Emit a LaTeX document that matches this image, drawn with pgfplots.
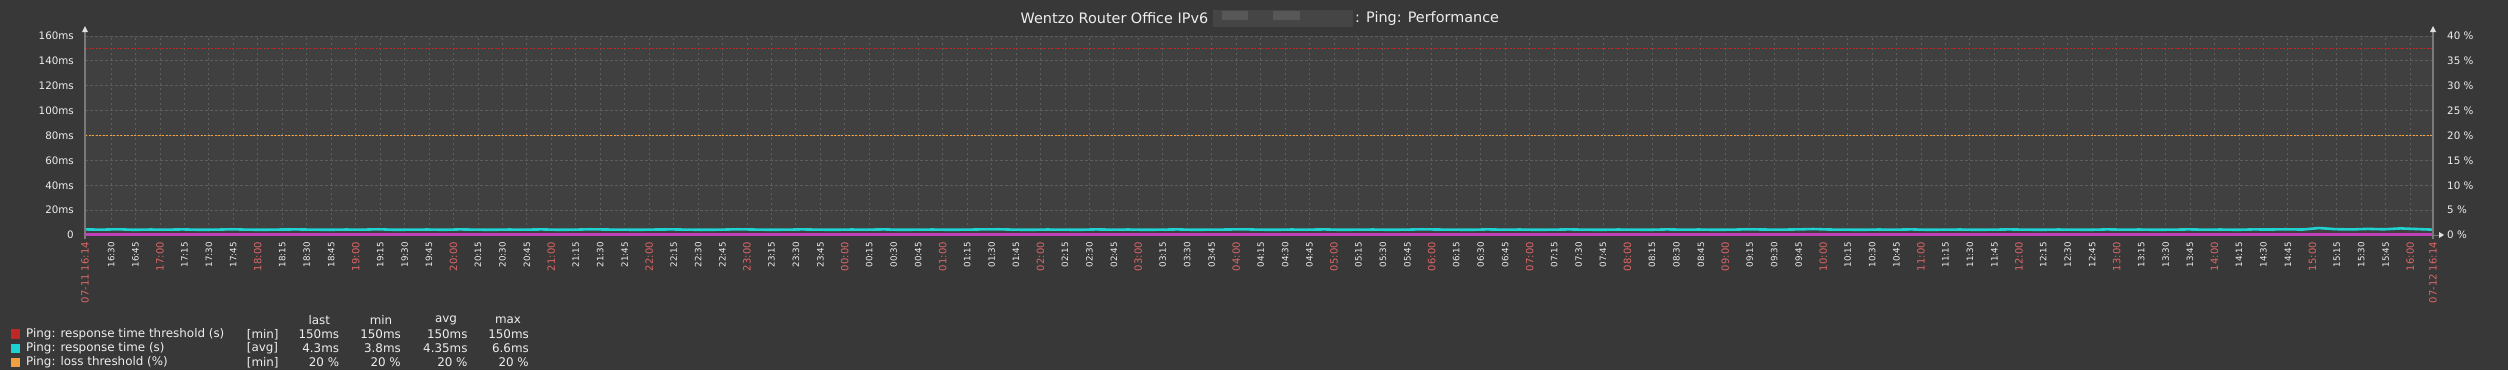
\documentclass[border=0pt]{standalone}
\usepackage{fontspec}
\setmainfont{DejaVu Sans}
\usepackage{pgfplots}
\pgfplotsset{compat=1.18}
\definecolor{bgout}{HTML}{383838}
\definecolor{bgplot}{HTML}{404040}
\definecolor{gridc}{HTML}{5E5E5E}
\definecolor{txt}{HTML}{EEEEEE}
\definecolor{hr}{HTML}{E06666}
\definecolor{thr}{HTML}{C02828}
\definecolor{cy}{HTML}{1ED2D2}
\definecolor{org}{HTML}{F0A040}
\definecolor{mag}{HTML}{C040B8}
\definecolor{axc}{HTML}{7A7A7A}
\definecolor{blurA}{HTML}{454545}
\definecolor{blurB}{HTML}{575757}
\newcommand\R[1]{{\fontsize{10}{10}\selectfont\color{hr}#1}}
\begin{document}
\begin{tikzpicture}[x=1pt,y=1pt]
\fill[bgout] (0,0) rectangle (2508,-370);
\useasboundingbox (0,0) rectangle (2508,-370);
\begin{axis}[
  at={(85pt,-235pt)}, anchor=south west,
  scale only axis, width=2348pt, height=199pt,
  xmin=0, xmax=1440, ymin=0, ymax=160,
  axis background/.style={fill=bgplot},
  axis line style={draw=none},
  major tick length=0pt,
  xtick={16,31,...,1426},
  xticklabels={16:30,16:45,
  \R{17:00},17:15,17:30,17:45,
  \R{18:00},18:15,18:30,18:45,
  \R{19:00},19:15,19:30,19:45,
  \R{20:00},20:15,20:30,20:45,
  \R{21:00},21:15,21:30,21:45,
  \R{22:00},22:15,22:30,22:45,
  \R{23:00},23:15,23:30,23:45,
  \R{00:00},00:15,00:30,00:45,
  \R{01:00},01:15,01:30,01:45,
  \R{02:00},02:15,02:30,02:45,
  \R{03:00},03:15,03:30,03:45,
  \R{04:00},04:15,04:30,04:45,
  \R{05:00},05:15,05:30,05:45,
  \R{06:00},06:15,06:30,06:45,
  \R{07:00},07:15,07:30,07:45,
  \R{08:00},08:15,08:30,08:45,
  \R{09:00},09:15,09:30,09:45,
  \R{10:00},10:15,10:30,10:45,
  \R{11:00},11:15,11:30,11:45,
  \R{12:00},12:15,12:30,12:45,
  \R{13:00},13:15,13:30,13:45,
  \R{14:00},14:15,14:30,14:45,
  \R{15:00},15:15,15:30,15:45,
  \R{16:00}},
  ytick={0,20,...,160},
  yticklabels={0,20ms,40ms,60ms,80ms,100ms,120ms,140ms,160ms},
  grid=major,
  major grid style={gridc, dash pattern=on 2.5pt off 2.5pt, line width=0.9pt},
  tick label style={txt},
  xticklabel style={font=\fontsize{8.7}{8.7}\selectfont, yshift=-7pt, rotate=90, anchor=east, inner sep=0pt},
  yticklabel style={font=\fontsize{10.3}{10.3}\selectfont, anchor=east, inner sep=0pt, xshift=-11pt},
]
\addplot[thr, dash pattern=on 2pt off 1.5pt, line width=1.4pt] coordinates {(0,150) (1440,150)};
\addplot[cy, line width=2.6pt] coordinates {
(0,4.5)(10,4.3)(20,4.6)(30,4.2)(40,4.4)(50,4.3)(60,4.5)(70,4.2)(80,4.3)(90,4.6)
(100,4.3)(110,4.2)(120,4.4)(130,4.5)(140,4.3)(150,4.2)(160,4.4)(170,4.3)(180,4.6)(190,4.2)
(200,4.3)(210,4.4)(220,4.2)(230,4.5)(240,4.3)(250,4.2)(260,4.4)(270,4.3)(280,4.5)(290,4.2)
(300,4.3)(310,4.6)(320,4.4)(330,4.3)(340,4.2)(350,4.4)(360,4.5)(370,4.3)(380,4.2)(390,4.3)
(400,4.6)(410,4.4)(420,4.2)(430,4.3)(440,4.5)(450,4.3)(460,4.2)(470,4.4)(480,4.3)(490,4.5)
(500,4.2)(510,4.3)(520,4.4)(530,4.2)(540,4.3)(550,4.5)(560,4.6)(570,4.3)(580,4.2)(590,4.4)
(600,4.3)(610,4.2)(620,4.5)(630,4.3)(640,4.4)(650,4.2)(660,4.3)(670,4.5)(680,4.2)(690,4.3)
(700,4.4)(710,4.6)(720,4.3)(730,4.2)(740,4.4)(750,4.3)(760,4.5)(770,4.2)(780,4.3)(790,4.4)
(800,4.2)(810,4.3)(820,4.6)(830,4.4)(840,4.3)(850,4.2)(860,4.5)(870,4.3)(880,4.4)(890,4.2)
(900,4.3)(910,4.5)(920,4.3)(930,4.2)(940,4.4)(950,4.3)(960,4.2)(970,4.5)(980,4.3)(990,4.4)
(1000,4.2)(1010,4.3)(1020,4.6)(1030,4.4)(1040,4.3)(1050,4.5)(1060,4.8)(1070,4.4)(1080,4.3)(1090,4.2)
(1100,4.4)(1110,4.3)(1120,4.5)(1130,4.2)(1140,4.3)(1150,4.4)(1160,4.2)(1170,4.3)(1180,4.5)(1190,4.3)
(1200,4.2)(1210,4.4)(1220,4.3)(1230,4.2)(1240,4.5)(1250,4.3)(1260,4.4)(1270,4.2)(1280,4.3)(1290,4.5)
(1300,4.3)(1310,4.4)(1320,4.2)(1330,4.5)(1340,4.4)(1350,4.6)(1360,4.4)(1370,5.6)(1380,4.7)(1390,4.5)
(1400,4.9)(1410,4.6)(1420,5.3)(1430,4.8)(1440,4.3)};
\end{axis}
\begin{axis}[
  at={(85pt,-235pt)}, anchor=south west,
  scale only axis, width=2348pt, height=199pt,
  xmin=0, xmax=1440, ymin=0, ymax=40,
  axis line style={draw=none},
  major tick length=0pt,
  clip=false,
  xtick={0,1440},
  xticklabels={07-11 16:14,07-12 16:14},
  ytick={0,5,...,40},
  yticklabels={0 \%,5 \%,10 \%,15 \%,20 \%,25 \%,30 \%,35 \%,40 \%},
  yticklabel pos=right,
  tick label style={txt},
  xticklabel style={font=\fontsize{10}{10}\selectfont, text=hr, yshift=-7pt, rotate=90, anchor=east, inner sep=0pt},
  yticklabel style={font=\fontsize{10.3}{10.3}\selectfont, anchor=west, inner sep=0pt, xshift=14pt},
]
\addplot[org, dash pattern=on 2pt off 1.5pt, line width=1.4pt] coordinates {(0,20) (1440,20)};
\addplot[mag, line width=2.4pt] coordinates {(0,0.07) (720,0.07) (1440,0.07)};
\end{axis}
% axis lines and arrows
\draw[axc, line width=2pt] (85,-239) -- (85,-31);
\draw[axc, line width=2pt] (2433,-239) -- (2433,-31);
\fill[white!88!black] (82,-32) -- (88,-32) -- (85,-26) -- cycle;
\fill[white!88!black] (2430,-32) -- (2436,-32) -- (2433,-26) -- cycle;
\draw[axc, line width=1pt] (2433,-235) -- (2439,-235);
\fill[white!88!black] (2439,-232) -- (2439,-238) -- (2444,-235) -- cycle;
% title
\node[anchor=west, txt, inner sep=0pt, font=\fontsize{14.4}{14.4}\selectfont] at (1020.5,-18.5) {Wentzo Router Office IPv6};
\fill[blurA] (1213,-10) rectangle (1353,-27);
\fill[blurB] (1222,-10.5) rectangle (1248,-19.5);
\fill[blurB] (1273,-10.5) rectangle (1300,-19.5);
\node[anchor=west, txt, inner sep=0pt, font=\fontsize{14.4}{14.4}\selectfont] at (1355,-18.5) {: Ping: Performance};
% legend
\begin{scope}[every node/.style={txt, inner sep=0pt, font=\fontsize{11.9}{11.9}\selectfont}]
\node at (319.3,-320) {last};
\node at (381,-320) {min};
\node at (446,-320) {avg};
\node at (508,-320) {max};
\fill[thr] (10.7,-329.3) rectangle (20.3,-338.9);
\node[anchor=west] at (26,-334.3) {Ping: response time threshold (s)};
\node[anchor=west] at (246.7,-334.3) {[min]};
\node[anchor=east] at (339.3,-334.3) {150ms};
\node[anchor=east] at (401,-334.3) {150ms};
\node[anchor=east] at (467.7,-334.3) {150ms};
\node[anchor=east] at (529,-334.3) {150ms};
\fill[cy] (10.7,-343.5) rectangle (20.3,-353.1);
\node[anchor=west] at (26,-348.3) {Ping: response time (s)};
\node[anchor=west] at (246.7,-348.3) {[avg]};
\node[anchor=east] at (339.3,-348.3) {4.3ms};
\node[anchor=east] at (401,-348.3) {3.8ms};
\node[anchor=east] at (467.7,-348.3) {4.35ms};
\node[anchor=east] at (529,-348.3) {6.6ms};
\fill[org] (10.7,-357.5) rectangle (20.3,-367.1);
\node[anchor=west] at (26,-362.3) {Ping: loss threshold (\%)};
\node[anchor=west] at (246.7,-362.3) {[min]};
\node[anchor=east] at (339.3,-362.3) {20 \%};
\node[anchor=east] at (401,-362.3) {20 \%};
\node[anchor=east] at (467.7,-362.3) {20 \%};
\node[anchor=east] at (529,-362.3) {20 \%};
\end{scope}
\end{tikzpicture}
\end{document}
